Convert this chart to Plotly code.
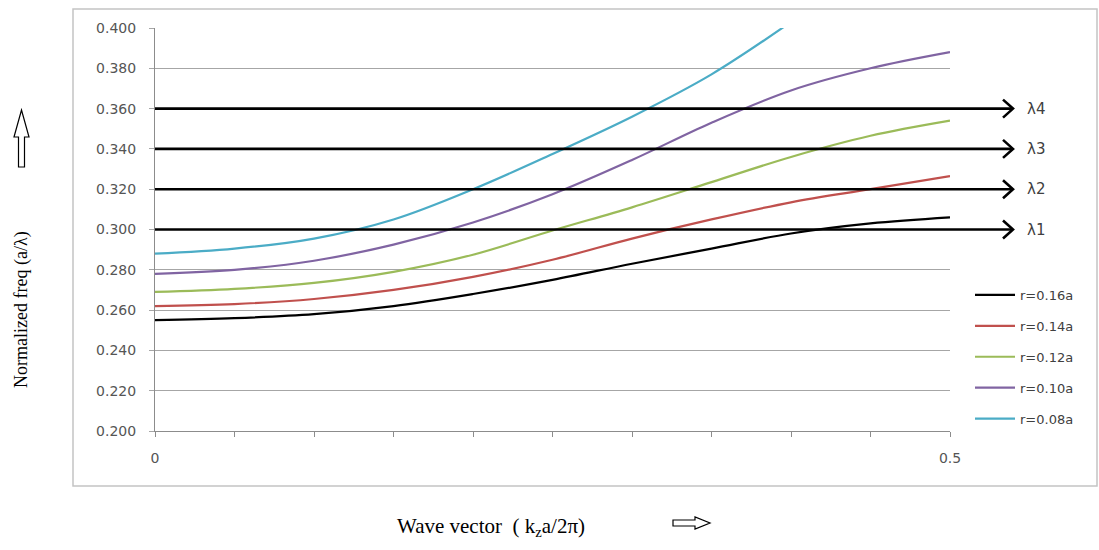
import plotly.graph_objects as go

# Wave vector samples (k_z a / 2pi)
wave_vector = [0.00, 0.05, 0.10, 0.15, 0.20, 0.25, 0.30, 0.35, 0.40, 0.45, 0.50]

# Normalized frequency (a/lambda) for each rod radius
freq_r016 = [0.2550, 0.2560, 0.2580, 0.2620, 0.2680, 0.2750, 0.2830, 0.2905, 0.2980, 0.3030, 0.3060]
freq_r014 = [0.2620, 0.2630, 0.2655, 0.2700, 0.2765, 0.2850, 0.2955, 0.3050, 0.3135, 0.3200, 0.3265]
freq_r012 = [0.2690, 0.2705, 0.2735, 0.2790, 0.2875, 0.2995, 0.3110, 0.3235, 0.3360, 0.3465, 0.3540]
freq_r010 = [0.2780, 0.2800, 0.2845, 0.2925, 0.3035, 0.3175, 0.3345, 0.3530, 0.3690, 0.3800, 0.3880]
freq_r008 = [0.2880, 0.2905, 0.2955, 0.3050, 0.3200, 0.3375, 0.3560, 0.3770, 0.4030]

series_names = ["r=0.16a", "r=0.14a", "r=0.12a", "r=0.10a", "r=0.08a"]
series_values = [freq_r016, freq_r014, freq_r012, freq_r010, freq_r008]
series_colors = ["#000000", "#c0504d", "#9bbb59", "#8064a2", "#4bacc6"]

# Operating wavelengths marked by horizontal arrows
lambda_labels = ["λ1", "λ2", "λ3", "λ4"]
lambda_freqs = [0.300, 0.320, 0.340, 0.360]

y_ticks = [0.200, 0.220, 0.240, 0.260, 0.280, 0.300, 0.320, 0.340, 0.360, 0.380, 0.400]
x_ticks = [0.00, 0.05, 0.10, 0.15, 0.20, 0.25, 0.30, 0.35, 0.40, 0.45, 0.50]
x_tick_text = ["0", "", "", "", "", "", "", "", "", "", "0.5"]

Y_MIN, Y_MAX = 0.2, 0.4

# Page geometry (pixels)
W, H = 1099, 550
PL, PR, PT, PB = 155, 950, 28, 431


def px(x):
    return (x - PL) / (PR - PL)


def py(y):
    return (PB - y) / (PB - PT)


def fy(v):
    return (v - Y_MIN) / (Y_MAX - Y_MIN)


fig = go.Figure()
for name, vals, col in zip(series_names, series_values, series_colors):
    fig.add_trace(go.Scatter(
        x=wave_vector[:len(vals)], y=vals, name=name, mode="lines",
        line=dict(color=col, width=2.2, shape="spline", smoothing=1.0),
        legendgroup=name,
    ))

shapes = []
annotations = []

# Outer chart frame
shapes.append(dict(type="rect", xref="paper", yref="paper",
                   x0=px(73), x1=px(1097), y0=py(486), y1=py(9),
                   line=dict(color="#c4c4c4", width=1.5), layer="below"))

# Horizontal wavelength arrows with open chevron heads
tip = 1013
for lab, v in zip(lambda_labels, lambda_freqs):
    yv = fy(v)
    dy = 9 / (PB - PT)
    shapes.append(dict(type="line", xref="paper", yref="paper",
                       x0=px(PL), x1=px(tip - 1), y0=yv, y1=yv,
                       line=dict(color="#000000", width=2.6), layer="above"))
    path = (f"M{px(tip - 10)},{yv + dy} L{px(tip)},{yv} L{px(tip - 10)},{yv - dy}")
    shapes.append(dict(type="path", xref="paper", yref="paper", path=path,
                       line=dict(color="#000000", width=2.6), layer="above"))
    annotations.append(dict(xref="paper", yref="paper", x=px(1025), y=yv,
                            text=lab, showarrow=False, xanchor="left", yanchor="middle",
                            font=dict(family="DejaVu Sans", size=15, color="#404040")))

# Hollow up arrow beside the y title
up = [(18.5, 167), (18.5, 137), (14, 137), (21.5, 110), (29, 137), (24.5, 137), (24.5, 167)]
shapes.append(dict(type="path", xref="paper", yref="paper",
                   path="M" + " L".join(f"{px(a)},{py(b)}" for a, b in up) + " Z",
                   line=dict(color="#000000", width=1.2)))

# Hollow right arrow beside the x title
right = [(673, 520), (695, 520), (695, 517), (710, 523), (695, 529), (695, 526), (673, 526)]
shapes.append(dict(type="path", xref="paper", yref="paper",
                   path="M" + " L".join(f"{px(a)},{py(b)}" for a, b in right) + " Z",
                   line=dict(color="#000000", width=1.2)))

# Axis titles
annotations.append(dict(xref="paper", yref="paper", x=px(21), y=py(310),
                        text="Normalized freq (a/λ)", showarrow=False, textangle=-90,
                        xanchor="center", yanchor="middle",
                        font=dict(family="Liberation Serif", size=18, color="#000000")))
annotations.append(dict(xref="paper", yref="paper", x=px(491), y=py(527),
                        text="Wave vector  ( k<sub>z</sub>a/2π)", showarrow=False,
                        xanchor="center", yanchor="middle",
                        font=dict(family="Liberation Serif", size=21, color="#000000")))

fig.update_layout(
    width=W, height=H,
    margin=dict(l=PL, r=W - PR, t=PT, b=H - PB, pad=0),
    paper_bgcolor="#ffffff", plot_bgcolor="#ffffff",
    shapes=shapes, annotations=annotations,
    showlegend=True,
    legend=dict(x=px(970), y=py(280), xanchor="left", yanchor="top",
                bgcolor="rgba(0,0,0,0)", tracegroupgap=11, itemwidth=40,
                font=dict(family="DejaVu Sans", size=13, color="#404040")),
    xaxis=dict(range=[0, 0.5], tickvals=x_ticks, ticktext=x_tick_text,
               showgrid=False, zeroline=False, showline=True, linecolor="#8c8c8c",
               linewidth=1, ticks="outside", ticklen=5, tickcolor="#8c8c8c",
               ticklabelstandoff=9,
               tickfont=dict(family="DejaVu Sans", size=14, color="#555555")),
    yaxis=dict(range=[Y_MIN, Y_MAX], tickvals=y_ticks,
               ticktext=[f"{v:.3f}" for v in y_ticks],
               showgrid=True, gridcolor="#a6a6a6", gridwidth=1, zeroline=False,
               showline=True, linecolor="#8c8c8c", linewidth=1,
               ticks="outside", ticklen=5, tickcolor="#a6a6a6",
               ticklabelstandoff=10,
               tickfont=dict(family="DejaVu Sans", size=14, color="#555555")),
)

fig.write_html("out.html")
